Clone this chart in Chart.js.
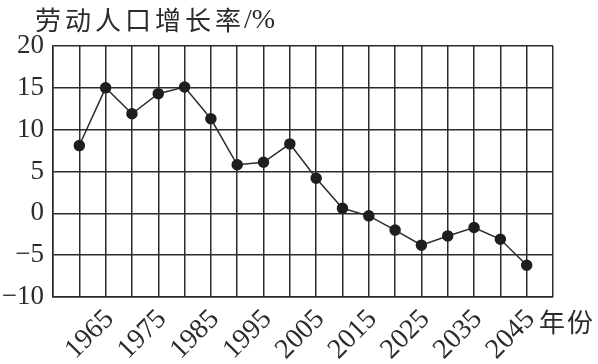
<!DOCTYPE html>
<html>
<head>
<meta charset="utf-8">
<script src="https://cdn.jsdelivr.net/npm/chart.js@4/dist/chart.umd.min.js"></script>
<style>
  html, body { margin: 0; padding: 0; background: #fff; }
  #wrap { width: 598px; height: 364px; position: relative; }
</style>
</head>
<body>
<div id="wrap"><canvas id="c" width="598" height="364"></canvas></div>
<script>
// data
const years = [1960, 1965, 1970, 1975, 1980, 1985, 1990, 1995, 2000, 2005, 2010, 2015, 2020, 2025, 2030, 2035, 2040, 2045];
const growth = [8.1, 15.0, 11.9, 14.3, 15.1, 11.3, 5.8, 6.1, 8.3, 4.2, 0.6, -0.3, -2.0, -3.8, -2.7, -1.7, -3.1, -6.2];
const xTickLabels = ['1965', '1975', '1985', '1995', '2005', '2015', '2025', '2035', '2045'];
const yTicks = [-10, -5, 0, 5, 10, 15, 20];
const yTitle = '劳动人口增长率';
const yUnit = '/%';
const xTitle = '年份';

const ink = '#2b2b2b';
const serif = "'Liberation Serif', 'Times New Roman', serif";

const axisText = {
  id: 'axisText',
  afterDraw(chart) {
    const { ctx } = chart;
    ctx.save();
    ctx.fillStyle = ink;
    ctx.textAlign = 'left';
    ctx.textBaseline = 'middle';
    ctx.font = '26px "Noto Sans CJK SC"';
    ctx.letterSpacing = '4px';
    ctx.fillText(yTitle, 35, 20);
    const w = ctx.measureText(yTitle).width;
    ctx.letterSpacing = '0px';
    ctx.font = '28px ' + serif;
    ctx.fillText(yUnit, 35 + w - 1, 21);
    ctx.font = '26px "Noto Sans CJK SC"';
    ctx.letterSpacing = '2px';
    ctx.fillText(xTitle, 539, 322);
    ctx.restore();
  }
};

new Chart(document.getElementById('c'), {
  type: 'line',
  data: {
    datasets: [{
      data: years.map((y, i) => ({ x: y, y: growth[i] })),
      borderColor: ink,
      borderWidth: 1.5,
      pointRadius: 5,
      pointBackgroundColor: '#1e1e1e',
      pointBorderColor: '#1e1e1e',
      tension: 0
    }]
  },
  options: {
    responsive: false,
    animation: false,
    layout: { padding: { top: 46, right: 45, left: 0, bottom: 0 } },
    plugins: { legend: { display: false }, tooltip: { enabled: false } },
    scales: {
      x: {
        type: 'linear',
        min: 1955,
        max: 2050,
        afterFit: s => { s.height = 67; },
        afterBuildTicks: s => { s.ticks = []; for (let v = 1955; v <= 2050; v += 5) s.ticks.push({ value: v }); },
        ticks: {
          autoSkip: false,
          minRotation: 45,
          maxRotation: 45,
          padding: 6,
          labelOffset: 4,
          color: ink,
          font: { family: serif, size: 28 },
          callback: v => xTickLabels.includes(String(v)) ? String(v) : ''
        },
        grid: { color: ink, lineWidth: 1.5, drawTicks: false },
        border: { color: ink, width: 1.5 }
      },
      y: {
        min: -10,
        max: 20,
        afterFit: s => { s.width = 53; },
        afterBuildTicks: s => { s.ticks = yTicks.map(v => ({ value: v })); },
        ticks: {
          padding: 9,
          color: ink,
          font: { family: serif, size: 27 },
          callback: v => v < 0 ? '\u2212' + Math.abs(v) : String(v)
        },
        grid: { color: ink, lineWidth: 1.5, drawTicks: false },
        border: { color: ink, width: 1.5 }
      }
    }
  },
  plugins: [axisText]
});
</script>
</body>
</html>
